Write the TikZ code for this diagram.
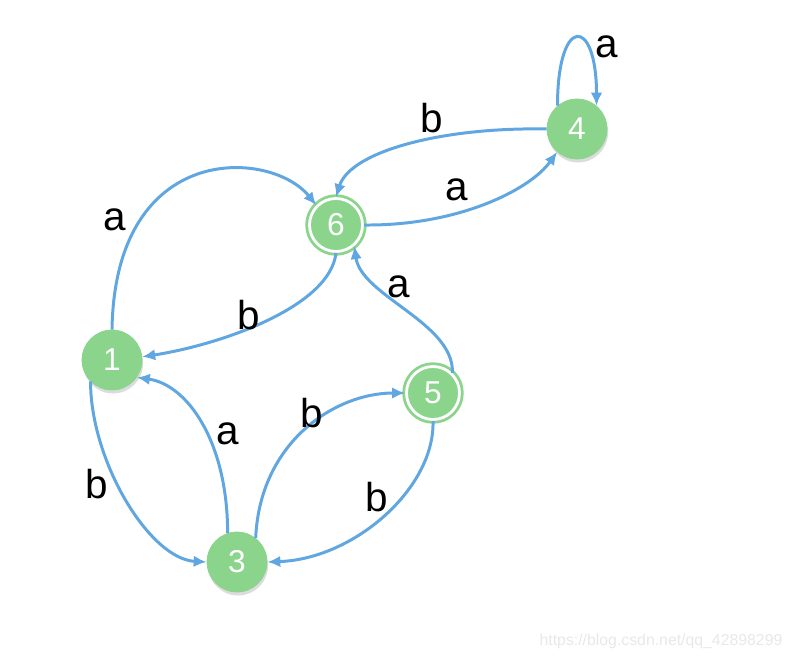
\documentclass[tikz,border=0pt]{standalone}
\usepackage{fontspec}
\setmainfont{Liberation Sans}
\usepackage{xcolor}
\usepackage{tikz}
\usetikzlibrary{arrows.meta,shadows}

\definecolor{zgruen}{RGB}{138,212,140}
\definecolor{kblau}{RGB}{96,166,224}

\tikzset{
  zustand/.style={circle, fill=zgruen, draw=zgruen, minimum size=1.2cm, inner sep=0pt, text=white,
    font=\fontsize{18}{20}\selectfont,
    drop shadow={shadow xshift=0.6pt, shadow yshift=-2pt, opacity=0.28}},
  endzustand/.style={zustand, minimum size=1.06cm, line width=1.6pt, double=white, double distance=1.6pt},
  kante/.style={kblau, line width=1.7pt, -{Latex[length=2.6mm,width=2.3mm]}},
  beschr/.style={font=\fontsize{23}{26}\selectfont, inner sep=0pt},
}

\begin{document}
\begin{tikzpicture}

    \useasboundingbox (0,0) rectangle (15.86,13.22);

    % Zustaende
    \node (Zustand1) at (2.24,6.02) [zustand] {1};
    \node (Zustand3) at (4.74,1.98) [zustand] {3};
    \node (Zustand5) at (8.66,5.36) [endzustand] {5};
    \node (Zustand6) at (6.72,8.72) [endzustand] {6};
    \node (Zustand4) at (11.54,10.64) [zustand] {4};

    % Uebergaenge
    \draw[kante] (Zustand1.90) .. controls +(0.06,3.8) and +(-0.9,1.12) .. (Zustand6.135);
    \draw[kante] (Zustand4.180) .. controls +(-2.14,0.04) and +(0.28,0.9) .. (Zustand6.90);
    \draw[kante] (Zustand6.0) .. controls +(1.88,-0.02) and +(-0.54,-0.76) .. (Zustand4.229);
    \draw[kante] (Zustand6.270) .. controls +(-0.12,-1.08) and +(1.56,0.24) .. (Zustand1.6);
    \draw[kante] (Zustand5.46) .. controls +(0.04,1.0) and +(0.14,-1.0) .. (Zustand6.311);
    \draw[kante] (Zustand1.225) .. controls +(0,-1.6) and +(-1.14,0.06) .. (Zustand3.180);
    \draw[kante] (Zustand3.108) .. controls +(0,1.84) and +(1.0,-0.14) .. (Zustand1.325);
    \draw[kante] (Zustand3.52) .. controls +(0.08,1.9) and +(-1.42,0) .. (Zustand5.180);
    \draw[kante] (Zustand5.270) .. controls +(0.04,-1.34) and +(1.74,0.06) .. (Zustand3.0);
    % Schleife an 4
    \draw[kante] (Zustand4.130) .. controls +(0,1.82) and +(0,1.8) .. (Zustand4.50);

    % Beschriftungen
    \node (a16) at (2.30,8.82) [beschr] {a};
    \node (b46) at (8.64,10.86) [beschr] {b};
    \node (a64) at (9.14,9.42) [beschr] {a};
    \node (b61) at (4.98,6.92) [beschr] {b};
    \node (a56) at (7.98,7.48) [beschr] {a};
    \node (a31) at (4.56,4.54) [beschr] {a};
    \node (b35) at (6.24,4.96) [beschr] {b};
    \node (b13) at (1.94,3.54) [beschr] {b};
    \node (b53) at (7.54,3.28) [beschr] {b};
    \node (a44) at (12.14,12.28) [beschr] {a};

    % Wasserzeichen
    \node (wasserzeichen) at (13.22,0.40) [text=black!9, font=\fontsize{9}{10}\selectfont] {https://blog.csdn.net/qq\_42898299};

\end{tikzpicture}
\end{document}
